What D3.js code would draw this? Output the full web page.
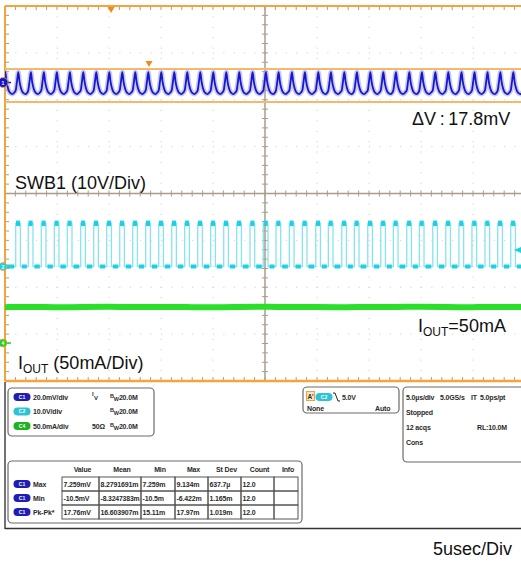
<!DOCTYPE html>
<html>
<head>
<meta charset="utf-8">
<script src="https://cdn.jsdelivr.net/npm/d3@7"></script>
<style>
	body { margin: 0; background: #fff; }
	svg { display: block; }
	.big { font-family: "Liberation Sans", Arial, sans-serif; font-size: 18px; fill: #111; }
	.small { font-family: "Liberation Sans", Arial, sans-serif; font-size: 7px; font-weight: bold; fill: #2a2a2a; letter-spacing: -0.15px; }
	.pill { font-family: "Liberation Sans", Arial, sans-serif; font-size: 5px; font-weight: bold; fill: #fff; }
</style>
</head>
<body>
<svg id="scope" width="521" height="563"></svg>
<script>
// rising edges of SWB1 in usec (first one is just off-screen)
const swEdges = [-0.22, 1.03, 2.24, 3.49, 4.74, 5.99, 7.28, 8.53, 9.78, 11.03, 12.28, 13.53, 14.78,
	16.03, 17.28, 18.53, 19.78, 21.03, 22.28, 23.56, 24.84, 26.06, 27.34, 28.59, 29.88, 31.09,
	32.38, 33.59, 34.88, 36.13, 37.34, 38.63, 39.84, 41.13, 42.38, 43.65, 44.90, 46.15, 47.38,
	48.63, 49.88];
const swHighWidth = 0.45;   // usec
const swLevels = [0, 9.2];  // V (low, high)

// one cycle of the output ripple (usec after rising edge, mV)
const rippleShape = [[0.00, -4.2], [0.12, 0.5], [0.25, 5.6], [0.36, 0.8], [0.52, -3.4],
	[0.72, -5.6], [0.95, -6.2], [1.12, -5.4]];

// output current, mA, every 2.5 usec
const ioutTimes = [0, 2.5, 5, 7.5, 10, 12.5, 15, 17.5, 20, 22.5, 25, 27.5, 30, 32.5, 35, 37.5, 40, 42.5, 45, 47.5, 50];
const ioutMA = [38.2, 38.6, 38.0, 38.4, 38.8, 38.1, 38.5, 38.3, 37.9, 38.4, 38.7, 38.2, 38.5, 38.0, 38.6, 38.3, 38.9, 38.4, 38.1, 38.6, 38.3];

// cursors on C1 (mV), trigger
const cursorMV = [7.3, -10.5];
const cursorTime = 13.85;
const triggerTime = 10.2;
const triggerLevel = 3.5;

// channel settings box
const chanNames = ["C1", "C2", "C4"];
const chanScales = ["20.0mV/div", "10.0V/div", "50.0mA/div"];
const chanTerm = ["", "", "50\u03A9"];
const chanBW = ["20.0M", "20.0M", "20.0M"];

// timebase box
const timeLines = [["5.0\u00B5s/div", "5.0GS/s", "IT", "5.0ps/pt"], ["Stopped"], ["12 acqs", "RL:10.0M"], ["Cons"]];

// measurement table
const measRows = ["Max", "Min", "Pk-Pk*"];
const measCols = ["Value", "Mean", "Min", "Max", "St Dev", "Count", "Info"];
const measVals = [
	["7.259mV", "8.2791691m", "7.259m", "9.134m", "637.7\u00B5", "12.0", ""],
	["-10.5mV", "-8.3247383m", "-10.5m", "-6.422m", "1.165m", "12.0", ""],
	["17.76mV", "16.603907m", "15.11m", "17.97m", "1.019m", "12.0", ""]
];

let drawScope = function() {
	const svg = d3.select("svg#scope");
	const plot = {left: 5, top: 6, right: 525, bottom: 381};

	const x = d3.scaleLinear().domain([0, 50]).range([plot.left, plot.right]);
	const yDiv = d3.scaleLinear().domain([-4, 4]).range([plot.bottom, plot.top]);
	const yBlue = d3.scaleLinear().domain(cursorMV).range([69, 102]);
	const yCyan = d3.scaleLinear().domain([0, 10]).range([266.5, 266.5 - 46.9]);
	const yGreen = d3.scaleLinear().domain([0, 50]).range([343, 343 - 46.9]);

	const colors = {
		blue: "#1818c8", blueHalo: "#9a9aec", cyan: "#1ed0e3", cyanEdge: "#86e4ef",
		green: "#2ade2a", orange: "#f5a43a", cursor: "#f7b86c", cross: "#a89d8d", grid: "#c8c8c8"
	};

	svg.append("clipPath").attr("id", "clip")
		.append("rect")
		.attr("x", plot.left).attr("y", plot.top)
		.attr("width", 521 - plot.left).attr("height", plot.bottom - plot.top);

	const g = {
		grid: svg.append("g"),
		traces: svg.append("g").attr("clip-path", "url(#clip)"),
		marks: svg.append("g"),
		text: svg.append("g"),
		panel: svg.append("g")
	};

	// dotted graticule
	const divT = d3.range(5, 50, 5).filter(t => t !== 25);
	g.grid.selectAll("line.vgrid").data(divT).enter().append("line")
		.attr("x1", d => x(d)).attr("x2", d => x(d))
		.attr("y1", plot.top).attr("y2", plot.bottom)
		.attr("stroke", colors.grid).attr("stroke-width", 1).attr("stroke-dasharray", "1,9.4");
	g.grid.selectAll("line.hgrid").data([-3, -2, -1, 1, 2, 3]).enter().append("line")
		.attr("x1", plot.left).attr("x2", 521)
		.attr("y1", d => yDiv(d)).attr("y2", d => yDiv(d))
		.attr("stroke", colors.grid).attr("stroke-width", 1).attr("stroke-dasharray", "1,9.4");

	// center crosshair with minor ticks
	g.grid.append("line")
		.attr("x1", x(25)).attr("x2", x(25)).attr("y1", plot.top).attr("y2", plot.bottom)
		.attr("stroke", colors.cross).attr("stroke-width", 1.5);
	g.grid.append("line")
		.attr("x1", plot.left).attr("x2", 521).attr("y1", yDiv(0)).attr("y2", yDiv(0))
		.attr("stroke", colors.cross).attr("stroke-width", 1.5);

	const minorV = d3.range(-4, 4.01, 0.2);
	const minorT = d3.range(0, 50.01, 1);
	g.grid.selectAll("line.tv").data(minorV).enter().append("line")
		.attr("x1", x(25) - 3).attr("x2", x(25) + 3)
		.attr("y1", d => yDiv(d)).attr("y2", d => yDiv(d))
		.attr("stroke", colors.cross).attr("stroke-width", 1);
	g.grid.selectAll("line.th").data(minorT).enter().append("line")
		.attr("x1", d => x(d)).attr("x2", d => x(d))
		.attr("y1", yDiv(0) - 3).attr("y2", yDiv(0) + 3)
		.attr("stroke", colors.cross).attr("stroke-width", 1);
	// border ticks
	g.grid.selectAll("line.tl").data(minorV).enter().append("line")
		.attr("x1", plot.left).attr("x2", plot.left + 4)
		.attr("y1", d => yDiv(d)).attr("y2", d => yDiv(d))
		.attr("stroke", colors.cross).attr("stroke-width", 1);
	g.grid.selectAll("line.tt").data(minorT).enter().append("line")
		.attr("x1", d => x(d)).attr("x2", d => x(d))
		.attr("y1", plot.top).attr("y2", plot.top + 4)
		.attr("stroke", colors.cross).attr("stroke-width", 1);
	g.grid.selectAll("line.tb").data(minorT).enter().append("line")
		.attr("x1", d => x(d)).attr("x2", d => x(d))
		.attr("y1", plot.bottom - 4).attr("y2", plot.bottom)
		.attr("stroke", colors.cross).attr("stroke-width", 1);

	// orange frame
	g.grid.append("line").attr("x1", plot.left).attr("x2", 521).attr("y1", plot.top).attr("y2", plot.top)
		.attr("stroke", colors.orange).attr("stroke-width", 2.2);
	g.grid.append("line").attr("x1", plot.left).attr("x2", 521).attr("y1", plot.bottom).attr("y2", plot.bottom)
		.attr("stroke", colors.orange).attr("stroke-width", 2.5);
	g.grid.append("line").attr("x1", plot.left).attr("x2", plot.left).attr("y1", plot.top).attr("y2", plot.bottom)
		.attr("stroke", colors.orange).attr("stroke-width", 2);

	// cursors
	g.grid.selectAll("line.cursor").data(cursorMV).enter().append("line")
		.attr("x1", plot.left).attr("x2", 521)
		.attr("y1", d => yBlue(d)).attr("y2", d => yBlue(d))
		.attr("stroke", colors.cursor).attr("stroke-width", 2);

	// C1 ripple built from the measured cycle at each switching edge
	const ripple = [];
	swEdges.forEach(e => rippleShape.forEach(p => ripple.push([e + p[0], p[1]])));
	const blueLine = d3.line().x(d => x(d[0])).y(d => yBlue(d[1])).curve(d3.curveMonotoneX);
	g.traces.append("path").datum(ripple).attr("d", blueLine)
		.attr("fill", "none").attr("stroke", colors.blueHalo).attr("stroke-width", 5).attr("opacity", 0.55);
	g.traces.append("path").datum(ripple).attr("d", blueLine)
		.attr("fill", "none").attr("stroke", colors.blue).attr("stroke-width", 1.8);

	// C2 switch node
	const edges = swEdges.filter(e => e >= 0);
	const sw = [[0, swLevels[0]]];
	edges.forEach(e => {
		sw.push([e, swLevels[0]], [e, swLevels[1]], [e + swHighWidth, swLevels[1]], [e + swHighWidth, swLevels[0]]);
	});
	sw.push([50, swLevels[0]]);
	const swLine = d3.line().x(d => x(d[0])).y(d => yCyan(d[1]));
	g.traces.append("path").datum(sw).attr("d", swLine)
		.attr("fill", "none").attr("stroke", colors.cyanEdge).attr("stroke-width", 1.3);
	g.traces.selectAll("line.swhigh").data(edges).enter().append("line")
		.attr("x1", d => x(d) + 0.3).attr("x2", d => x(d + swHighWidth) - 0.3)
		.attr("y1", yCyan(swLevels[1])).attr("y2", yCyan(swLevels[1]))
		.attr("stroke", colors.cyan).attr("stroke-width", 5.5);
	const lows = [0].concat(edges.map(e => e + swHighWidth));
	g.traces.selectAll("line.swlow").data(lows).enter().append("line")
		.attr("x1", d => x(d) + 1.5)
		.attr("x2", (d, i) => x(i < edges.length ? edges[i] : 50) - 1.5)
		.attr("y1", yCyan(swLevels[0])).attr("y2", yCyan(swLevels[0]))
		.attr("stroke", colors.cyan).attr("stroke-width", 4);

	// C4 output current
	const iout = ioutTimes.map((t, i) => [t, ioutMA[i]]);
	const greenLine = d3.line().x(d => x(d[0])).y(d => yGreen(d[1])).curve(d3.curveBasis);
	g.traces.append("path").datum(iout).attr("d", greenLine)
		.attr("fill", "none").attr("stroke", colors.green).attr("stroke-width", 6);

	// trigger position and cursor markers
	const tri = (cx, y0, h) => `M${cx - 3.5},${y0}L${cx + 3.5},${y0}L${cx},${y0 + h}Z`;
	g.marks.append("path").attr("d", tri(x(triggerTime), plot.top + 1, 6)).attr("fill", "#f08a1c");
	g.marks.append("path").attr("d", tri(x(cursorTime), 61, 6)).attr("fill", "#f08a1c");

	// trigger level arrow on the right
	const tl = yCyan(triggerLevel);
	g.marks.append("path").attr("d", `M514,${tl}L521,${tl - 3}L521,${tl + 3}Z`).attr("fill", colors.cyan);

	// channel ground markers on the left
	const markers = [
		{y: yBlue(0), fill: "#1414c8", label: "1", r: 5},
		{y: yCyan(0), fill: colors.cyan, label: "2", r: 4},
		{y: yGreen(0), fill: "#28cc28", label: "4", r: 4}
	];
	markers.forEach(m => {
		g.marks.append("line").attr("x1", 3).attr("x2", 11).attr("y1", m.y).attr("y2", m.y)
			.attr("stroke", m.fill).attr("stroke-width", 1.5);
		g.marks.append("circle").attr("cx", 3).attr("cy", m.y).attr("r", m.r)
			.attr("fill", m.fill).attr("stroke", colors.orange).attr("stroke-width", 0.8);
		g.marks.append("text").attr("x", 3).attr("y", m.y + 2)
			.attr("text-anchor", "middle").attr("class", "pill").text(m.label);
	});

	// annotations
	g.text.append("text").attr("class", "big").attr("x", 412).attr("y", 125).text("\u0394V\u2009:\u200917.8mV");
	g.text.append("text").attr("class", "big").attr("x", 15).attr("y", 189).text("SWB1 (10V/Div)");
	const iLabel = (x0, y0, rest) => {
		const t = g.text.append("text").attr("class", "big").attr("x", x0).attr("y", y0);
		t.append("tspan").text("I");
		t.append("tspan").attr("dy", 4).style("font-size", "12px").text("OUT");
		t.append("tspan").attr("dy", -4).text(rest);
	};
	iLabel(418, 332, "=50mA");
	iLabel(18, 369, " (50mA/Div)");
	g.text.append("text").attr("class", "big").attr("x", 433).attr("y", 555).text("5usec/Div");

	// lower frame lines
	g.panel.append("line").attr("x1", 5).attr("x2", 5).attr("y1", 382).attr("y2", 529)
		.attr("stroke", "#444").attr("stroke-width", 1.5);
	g.panel.append("line").attr("x1", 5).attr("x2", 521).attr("y1", 528.5).attr("y2", 528.5)
		.attr("stroke", "#333").attr("stroke-width", 1.5);

	drawPanels(g.panel);
};

let box = function(sel, x0, y0, w, h) {
	sel.append("rect").attr("x", x0).attr("y", y0).attr("width", w).attr("height", h)
		.attr("rx", 4).attr("fill", "#fff").attr("stroke", "#6a6a6a").attr("stroke-width", 1.2);
};

let pill = function(sel, cx, cy, label, fill) {
	sel.append("rect").attr("x", cx - 8.5).attr("y", cy - 4).attr("width", 17).attr("height", 8)
		.attr("rx", 4).attr("fill", fill);
	sel.append("text").attr("class", "pill").attr("x", cx).attr("y", cy + 1.8)
		.attr("text-anchor", "middle").text(label);
};

// small label that is squeezed if it would run past maxW
let label = function(sel, x0, y0, s, maxW) {
	const t = sel.append("text").attr("class", "small").attr("x", x0).attr("y", y0).text(s);
	if (maxW && t.node().getComputedTextLength() > maxW) {
		t.attr("textLength", maxW).attr("lengthAdjust", "spacingAndGlyphs");
	}
	return t;
};

let drawPanels = function(p) {
	const pillColors = ["#1e1eb4", "#2cc4d4", "#1fb21f"];

	// vertical settings
	box(p, 8, 388, 146, 48);
	chanNames.forEach((c, i) => {
		const cy = 397 + i * 14.5;
		pill(p, 22, cy, c, pillColors[i]);
		label(p, 33, cy + 2.5, chanScales[i], 36);
		label(p, 92, cy + 2.5, chanTerm[i]);
		const bw = p.append("text").attr("class", "small").attr("x", 110).attr("y", cy + 2.5);
		bw.append("tspan").attr("dy", -2).style("font-size", "5.5px").text("B");
		bw.append("tspan").attr("dy", 3).style("font-size", "5.5px").text("W");
		bw.append("tspan").attr("dy", -1).text(chanBW[i]);
	});
	// coupling glyph on C1
	p.append("text").attr("class", "small").attr("x", 92).attr("y", 396).style("font-size", "6px").text("I");
	p.append("text").attr("class", "small").attr("x", 94).attr("y", 400).style("font-size", "6px").text("V");

	// trigger box
	box(p, 303, 387, 96, 26);
	p.append("rect").attr("x", 306.5).attr("y", 391.5).attr("width", 8).attr("height", 9)
		.attr("fill", "#fde3c4").attr("stroke", "#f0a040").attr("stroke-width", 1);
	p.append("text").attr("class", "small").attr("x", 307.5).attr("y", 399).style("font-size", "6.5px").text("A'");
	pill(p, 324, 397, "C2", pillColors[1]);
	p.append("path").attr("d", "M333,393L335,393L338,401L340,401").attr("fill", "none")
		.attr("stroke", "#222").attr("stroke-width", 1);
	label(p, 342, 400, "5.0V");
	label(p, 307, 411, "None");
	label(p, 375, 411, "Auto");

	// timebase box
	box(p, 403, 387, 124, 75);
	const timeX = [[406, 440, 471, 480], [406], [406, 477], [406]];
	const timeW = [[31, 27, 8, 30], [40], [30, 35], [30]];
	timeLines.forEach((row, r) => {
		row.forEach((s, k) => label(p, timeX[r][k], 400 + r * 15, s, timeW[r][k]));
	});

	// measurements
	box(p, 8, 461, 294, 62);
	const colX = [62, 99, 141, 175, 208, 241, 274, 298];
	const rowTop = 477, rowH = 14;
	measCols.forEach((c, i) => {
		label(p, (colX[i] + colX[i + 1]) / 2 + 2, 472, c).attr("text-anchor", "middle");
	});
	measRows.forEach((r, j) => {
		const y0 = rowTop + j * rowH;
		pill(p, 22, y0 + 7, "C1", pillColors[0]);
		label(p, 33, y0 + 10, r);
		measVals[j].forEach((v, i) => {
			p.append("rect").attr("x", colX[i]).attr("y", y0).attr("width", colX[i + 1] - colX[i]).attr("height", rowH)
				.attr("fill", "none").attr("stroke", "#555").attr("stroke-width", 1);
			label(p, colX[i] + 1.5, y0 + 10, v, colX[i + 1] - colX[i] - 3);
		});
	});
};

drawScope();
</script>
</body>
</html>
